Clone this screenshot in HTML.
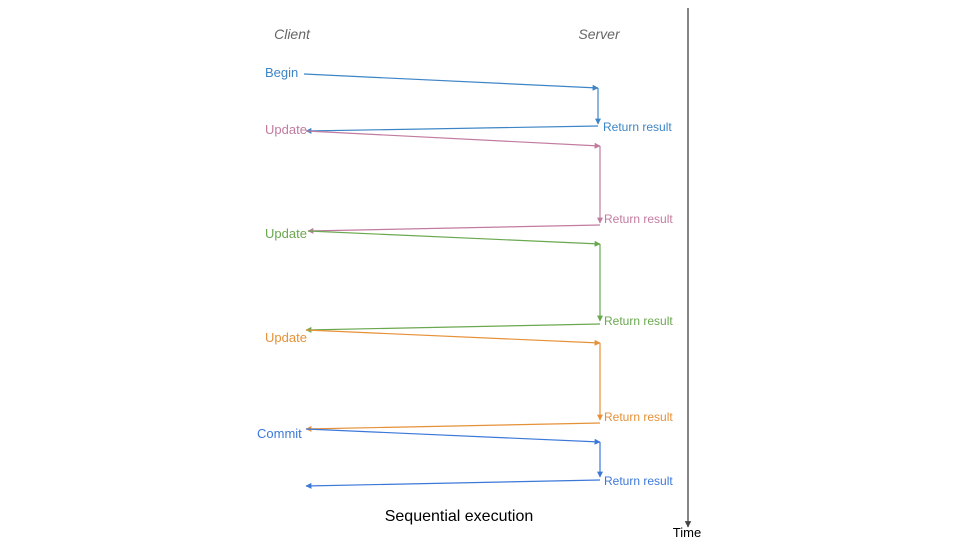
<!DOCTYPE html>
<html><head><style>body{margin:0;background:#fff}svg{display:block}text{font-family:"Liberation Sans",sans-serif}</style></head><body>
<svg width="960" height="540" viewBox="0 0 960 540">
<defs>
<marker id="a" viewBox="0 0 10 10" refX="9" refY="5" markerWidth="5" markerHeight="5" orient="auto"><path d="M0,0L10,5L0,10z" fill="context-stroke"/></marker>
</defs>
<text x="292" y="39" font-size="14" font-style="italic" fill="#666" text-anchor="middle">Client</text>
<text x="599" y="39" font-size="14" font-style="italic" fill="#666" text-anchor="middle">Server</text>
<line x1="688" y1="8" x2="688" y2="527" stroke="#444" stroke-width="1.3" marker-end="url(#a)"/>
<text x="687" y="537" font-size="13" fill="#000" text-anchor="middle">Time</text>
<g fill="none" stroke-width="1.2" marker-end="url(#a)">
<g stroke="#3d85c6"><path d="M304,74L598,88"/><path d="M598,88L598,124"/><path d="M598,126L306,131"/></g>
<g stroke="#c27ba0"><path d="M306,131L600,146"/><path d="M600,146L600,223"/><path d="M600,225L308,231"/></g>
<g stroke="#6aa84f"><path d="M308,231L600,244"/><path d="M600,244L600,321"/><path d="M600,324L306,330"/></g>
<g stroke="#e69138"><path d="M306,330L600,343"/><path d="M600,343L600,420"/><path d="M600,423L306,429"/></g>
<g stroke="#3c78d8"><path d="M306,429L600,442"/><path d="M600,442L600,477"/><path d="M600,480L306,486"/></g>
</g>
<g font-size="13">
<text x="265" y="77" fill="#3d85c6">Begin</text>
<text x="603" y="131" font-size="12" fill="#3d85c6">Return result</text>
<text x="265" y="134" fill="#c27ba0">Update</text>
<text x="604" y="223" font-size="12" fill="#c27ba0">Return result</text>
<text x="265" y="238" fill="#6aa84f">Update</text>
<text x="604" y="325" font-size="12" fill="#6aa84f">Return result</text>
<text x="265" y="342" fill="#e69138">Update</text>
<text x="604" y="421" font-size="12" fill="#e69138">Return result</text>
<text x="257" y="438" fill="#3c78d8">Commit</text>
<text x="604" y="485" font-size="12" fill="#3c78d8">Return result</text>
</g>
<text x="459" y="521" font-size="16" fill="#000" text-anchor="middle">Sequential execution</text>
</svg>
</body></html>
